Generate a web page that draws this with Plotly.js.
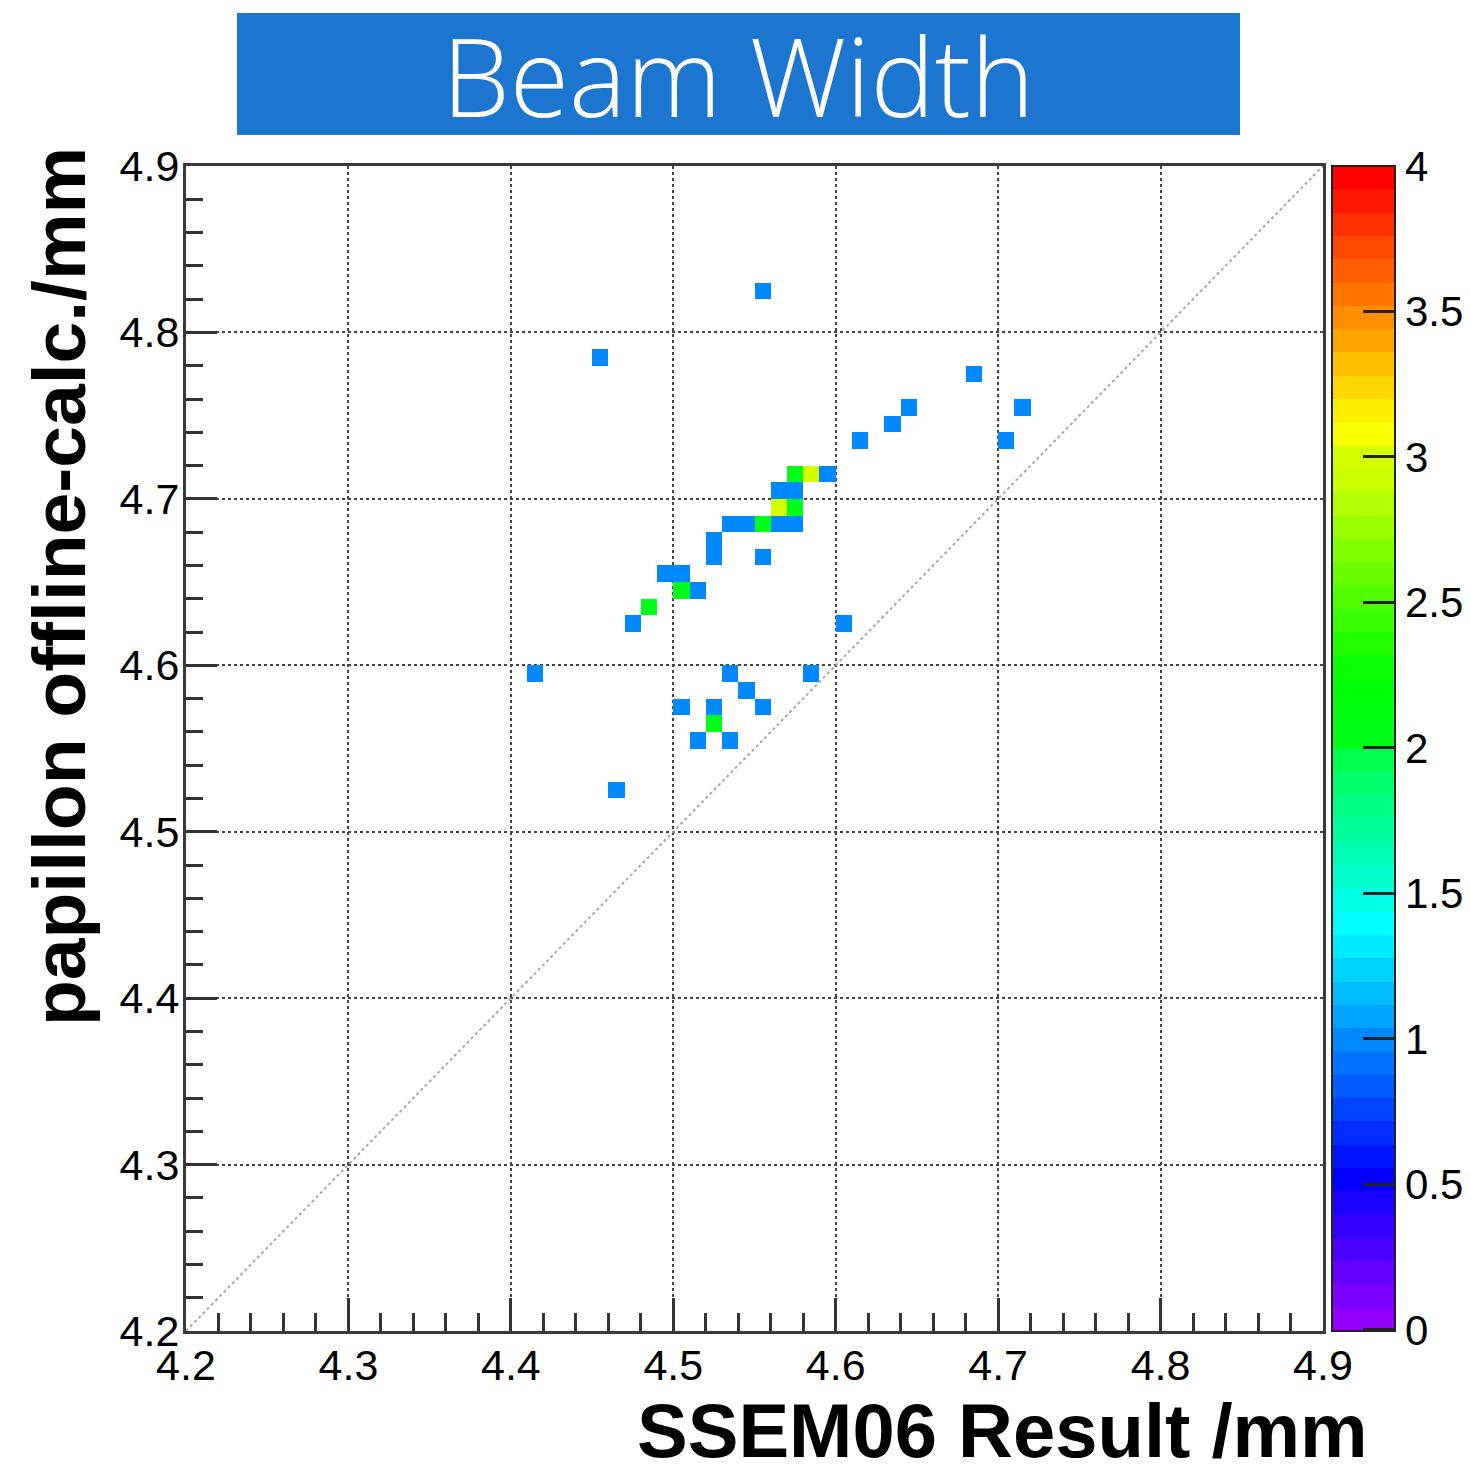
<!DOCTYPE html>
<html>
<head>
<meta charset="utf-8">
<script src="https://cdn.plot.ly/plotly-3.0.1.min.js"></script>
<style>
  html, body { margin: 0; padding: 0; background: #ffffff; }
  #chart { width: 1471px; height: 1473px; }
</style>
</head>
<body>
<div id="chart"></div>
<script>
// ---------- data (bin centres of filled 0.01 x 0.01 bins, and entries) ----------
const cellX = [4.555, 4.455, 4.685, 4.645, 4.715, 4.635, 4.615, 4.705, 4.575, 4.585,
               4.595, 4.565, 4.575, 4.565, 4.575, 4.535, 4.545, 4.555, 4.565, 4.575,
               4.525, 4.525, 4.555, 4.495, 4.505, 4.505, 4.515, 4.485, 4.475, 4.605,
               4.415, 4.535, 4.585, 4.545, 4.505, 4.525, 4.555, 4.525, 4.515, 4.535,
               4.465];
const cellY = [4.825, 4.785, 4.775, 4.755, 4.755, 4.745, 4.735, 4.735, 4.715, 4.715,
               4.715, 4.705, 4.705, 4.695, 4.695, 4.685, 4.685, 4.685, 4.685, 4.685,
               4.675, 4.665, 4.665, 4.655, 4.655, 4.645, 4.645, 4.635, 4.625, 4.625,
               4.595, 4.595, 4.595, 4.585, 4.575, 4.575, 4.575, 4.565, 4.555, 4.555,
               4.525];
const cellN = [1, 1, 1, 1, 1, 1, 1, 1, 2, 3,
               1, 1, 1, 3, 2, 1, 1, 2, 1, 1,
               1, 1, 1, 1, 1, 2, 1, 2, 1, 1,
               1, 1, 1, 1, 1, 1, 1, 2, 1, 1,
               1];

// histogram binning
const binLow = 4.2;
const binHigh = 4.9;
const binWidth = 0.01;
const zMin = 0;
const zMax = 4;

// diagonal reference line y = x
const diagX = [4.2, 4.9];
const diagY = [4.2, 4.9];

// axis ticks
const axisTickVals = [4.2, 4.3, 4.4, 4.5, 4.6, 4.7, 4.8, 4.9];
const axisTickText = ['4.2', '4.3', '4.4', '4.5', '4.6', '4.7', '4.8', '4.9'];
const cbTickVals = [0, 0.5, 1, 1.5, 2, 2.5, 3, 3.5, 4];
const cbTickText = ['0', '0.5', '1', '1.5', '2', '2.5', '3', '3.5', '4'];

// texts
const titleText = 'Beam Width';
const xTitleText = 'SSEM06 Result /mm';
const yTitleText = 'papillon offline-calc./mm';

// ROOT-style "pretty" palette, 50 contour bands
const palette = [
  '#9200ff', '#7a00ff', '#6300ff', '#4b00ff', '#3300ff', '#1b00ff', '#0300ff', '#0014ff', '#002cff', '#0044ff',
  '#005cff', '#0074ff', '#0088ff', '#00a3ff', '#00bbff', '#00d3ff', '#00ebff', '#00fffc', '#00ffe4', '#00ffcc',
  '#00ffb4', '#00ff9c', '#00ff85', '#00ff6d', '#00ff50', '#00ff18', '#00ff10', '#00ff08', '#0aff00', '#22ff00',
  '#3aff00', '#52ff00', '#69ff00', '#81ff00', '#99ff00', '#b1ff00', '#c9ff00', '#d4ff00', '#f8ff00', '#ffee00',
  '#ffd600', '#ffbe00', '#ffa700', '#ff8f00', '#ff7700', '#ff5f00', '#ff4700', '#ff3000', '#ff1800', '#ff0000'
];

// ---------- build grid & colorscale ----------
const nBins = Math.round((binHigh - binLow) / binWidth);
const z = [];
for (let iy = 0; iy < nBins; iy++) {
  const row = [];
  for (let ix = 0; ix < nBins; ix++) row.push(null);
  z.push(row);
}
for (let k = 0; k < cellX.length; k++) {
  const ix = Math.floor((cellX[k] - binLow) / binWidth + 1e-6);
  const iy = Math.floor((cellY[k] - binLow) / binWidth + 1e-6);
  z[iy][ix] = cellN[k];
}
const colorscale = [];
for (let j = 0; j < palette.length; j++) {
  colorscale.push([j / palette.length, palette[j]]);
  colorscale.push([(j + 1) / palette.length, palette[j]]);
}

const heat = {
  type: 'heatmap',
  z: z,
  x0: binLow + binWidth / 2,
  dx: binWidth,
  y0: binLow + binWidth / 2,
  dy: binWidth,
  zmin: zMin - 0.004,
  zmax: zMax,
  colorscale: colorscale,
  hoverongaps: false,
  colorbar: {
    x: 1.0079, xanchor: 'left', xref: 'paper',
    y: 0.5, yanchor: 'middle', len: 1, lenmode: 'fraction',
    thickness: 63, thicknessmode: 'pixels',
    xpad: 0, ypad: 0,
    outlinewidth: 2, outlinecolor: '#222222',
    tickmode: 'array', tickvals: cbTickVals, ticktext: cbTickText,
    ticks: 'inside', ticklen: 33, tickwidth: 3, tickcolor: '#222222',
    tickfont: { family: 'Liberation Sans, Arial, sans-serif', size: 42, color: '#000000' }
  }
};

const diag = {
  type: 'scatter', mode: 'lines',
  x: diagX, y: diagY,
  line: { color: '#a8a8a8', width: 2, dash: 'dot' },
  hoverinfo: 'skip', showlegend: false
};

const tickFont = { family: 'Liberation Sans, Arial, sans-serif', size: 43, color: '#000000' };

function axisCfg(majorLen, minorLen) {
  return {
    range: [binLow, binHigh],
    tickmode: 'array', tickvals: axisTickVals, ticktext: axisTickText,
    ticks: 'inside', ticklen: majorLen, tickwidth: 3, tickcolor: '#333333',
    minor: { tickmode: 'linear', tick0: binLow, dtick: 0.02, ticks: 'inside', ticklen: minorLen,
             tickwidth: 3, tickcolor: '#333333', showgrid: false },
    showline: true, linecolor: '#3a3a3a', linewidth: 3, mirror: true,
    showgrid: true, gridcolor: '#444444', gridwidth: 2, griddash: 'dot',
    zeroline: false, tickfont: tickFont, fixedrange: true
  };
}

const xaxis = axisCfg(33, 18);
xaxis.ticklabelstandoff = -6;
const yaxis = axisCfg(31, 17);
yaxis.ticklabelstandoff = -5;

const layout = {
  width: 1471, height: 1473,
  margin: { l: 186, r: 148, t: 166, b: 142, pad: 0, autoexpand: false },
  paper_bgcolor: '#ffffff', plot_bgcolor: '#ffffff',
  showlegend: false,
  xaxis: xaxis,
  yaxis: yaxis,
  shapes: [
    { type: 'rect', xref: 'paper', yref: 'paper', x0: 0.04485, x1: 0.92700, y0: 1.02661, y1: 1.13133,
      fillcolor: '#1c76cf', line: { width: 0 }, layer: 'below' }
  ],
  annotations: [
    { text: titleText, xref: 'paper', yref: 'paper', x: 0.4859, y: 1.0777,
      xanchor: 'center', yanchor: 'middle', showarrow: false,
      font: { family: 'Open Sans, Roboto, sans-serif', weight: 300, size: 108, color: '#ffffff' } },
    { text: xTitleText, xref: 'paper', yref: 'paper', x: 1.0414, y: -0.0852,
      xanchor: 'right', yanchor: 'middle', showarrow: false,
      font: { family: 'Liberation Sans, Arial, sans-serif', weight: 'bold', size: 76, color: '#000000' } },
    { text: yTitleText, xref: 'paper', yref: 'paper', x: -0.1117, y: 0.6395,
      xanchor: 'center', yanchor: 'middle', textangle: -90, showarrow: false,
      font: { family: 'Liberation Sans, Arial, sans-serif', weight: 'bold', size: 75, color: '#000000' } }
  ]
};

Plotly.newPlot('chart', [heat, diag], layout, { staticPlot: true, displayModeBar: false });
</script>
</body>
</html>
